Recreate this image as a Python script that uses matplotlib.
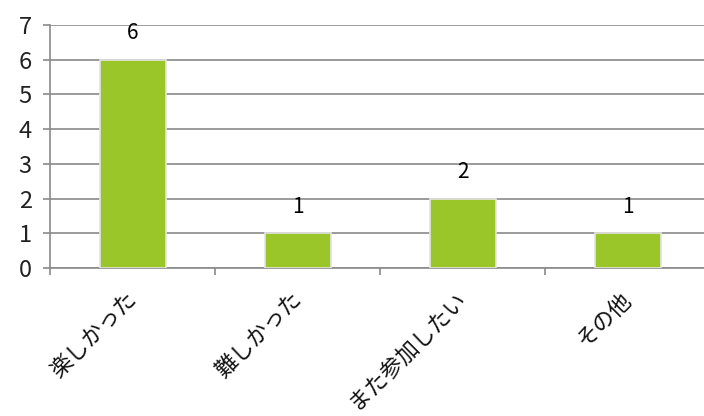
import matplotlib
matplotlib.use("Agg")
import matplotlib.pyplot as plt
import numpy as np

categories = ["楽しかった", "難しかった", "また参加したい", "その他"]
values = [6, 1, 2, 1]
yticks = [0, 1, 2, 3, 4, 5, 6, 7]

plt.rcParams['font.family'] = ['Noto Sans CJK JP', 'DejaVu Sans']

W, H = 704, 416
fig = plt.figure(figsize=(W/100, H/100), dpi=100)
ax = fig.add_axes([50/W, (H-268)/H, 660/W, 243/H])

grid_c = '#8a8a8a'
x = np.arange(len(categories))
bars = ax.bar(x, values, width=0.4, color='#9bc629', edgecolor='#e4e4e4', linewidth=1.2, zorder=3)

ax.set_xlim(-0.5, len(categories) - 0.5)
ax.set_ylim(0, 7)
ax.set_yticks(yticks)
ax.set_yticklabels([str(v) for v in yticks], fontsize=17, color='#222222')
ax.yaxis.grid(True, color=grid_c, linewidth=1.2, zorder=0)
ax.set_axisbelow(True)

ax.set_xticks(x)
ax.set_xticklabels(categories, fontsize=16, rotation=45, ha='right', va='center',
                   rotation_mode='anchor', color='#111111')
ax.tick_params(axis='x', length=0, pad=20)
ax.set_xticks(np.arange(-0.5, len(categories), 1.0), minor=True)
ax.tick_params(axis='x', which='minor', length=5, width=1.2, color=grid_c, direction='out')
ax.tick_params(axis='y', length=5, width=1.2, color=grid_c, pad=8)

for s in ['top', 'right']:
    ax.spines[s].set_visible(False)
for s in ['left', 'bottom']:
    ax.spines[s].set_color(grid_c)
    ax.spines[s].set_linewidth(1.2)

for xi, v in zip(x, values):
    ax.annotate(str(v), (xi, v), xytext=(0, 19), textcoords='offset points',
                ha='center', va='center', fontsize=15, color='#000000')

fig.savefig('out.png', dpi=100)
